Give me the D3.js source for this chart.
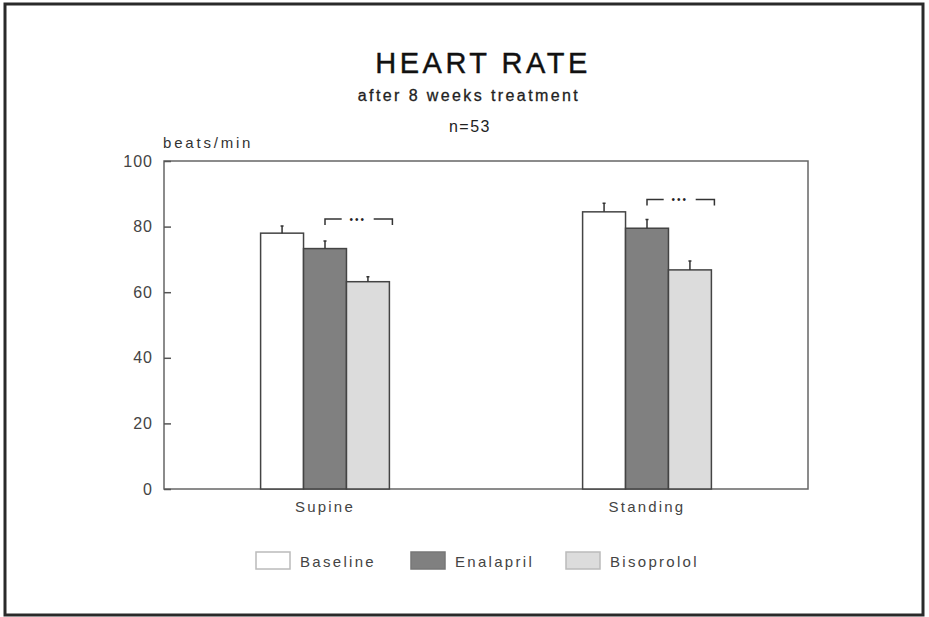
<!DOCTYPE html>
<meta charset="utf-8">
<style>
body { margin: 0; background: #fff; font-family: 'Liberation Sans', Arial, sans-serif; }
text { fill: #333; }
.axis path, .axis line { stroke: #555; stroke-width: 1.5px; fill: none; }
.axis text { font-size: 16px; letter-spacing: 1px; fill: #444; }
.bar { stroke: #444; stroke-width: 1.5px; }
.err, .bracket { stroke: #333; stroke-width: 1.5px; fill: none; }
</style>
<body>
<svg width="929" height="617"></svg>
<script src="https://d3js.org/d3.v7.min.js"></script>
<script>
var groups = ["Supine", "Standing"];
var series = ["Baseline", "Enalapril", "Bisoprolol"];
var fills = ["#ffffff", "#808080", "#dcdcdc"];
var baseline = [78, 84.5];
var enalapril = [73.3, 79.5];
var bisoprolol = [63.2, 66.8];
var baselineSem = [2.2, 2.6];
var enalaprilSem = [2.3, 2.7];
var bisoprololSem = [1.5, 2.7];
var sigLevel = [82.3, 88.3];
var sigLabel = "•••";
var yTicks = [0, 20, 40, 60, 80, 100];

var svg = d3.select("svg"),
    margin = {top: 161, right: 121, bottom: 128, left: 164},
    width = +svg.attr("width") - margin.left - margin.right,
    height = +svg.attr("height") - margin.top - margin.bottom;

var values = [baseline, enalapril, bisoprolol];
var sems = [baselineSem, enalaprilSem, bisoprololSem];
var data = [];
groups.forEach(function(g, i) {
  series.forEach(function(s, j) {
    data.push({group: g, series: s, value: values[j][i], sem: sems[j][i], fill: fills[j]});
  });
});

// outer frame
svg.append("rect")
    .attr("x", 5).attr("y", 4).attr("width", 918).attr("height", 611)
    .attr("fill", "none").attr("stroke", "#2a2a2a").attr("stroke-width", 3);

// titles
svg.append("text").attr("x", 483).attr("y", 73).attr("text-anchor", "middle")
    .style("font-size", "29px").style("letter-spacing", "3.5px").style("fill", "#111")
    .style("stroke", "#111").style("stroke-width", "0.4px")
    .text("HEART RATE");
svg.append("text").attr("x", 469).attr("y", 101).attr("text-anchor", "middle")
    .style("font-size", "16px").style("letter-spacing", "2.4px").style("fill", "#222")
    .style("stroke", "#222").style("stroke-width", "0.3px")
    .text("after 8 weeks treatment");
svg.append("text").attr("x", 470).attr("y", 132).attr("text-anchor", "middle")
    .style("font-size", "16px").style("letter-spacing", "1.5px").style("fill", "#222")
    .text("n=53");

var x0 = d3.scaleBand().domain(groups).range([0, width]);
var x1 = d3.scaleBand().domain(series).range([0, x0.bandwidth()]).paddingInner(0).paddingOuter(2.25);
var y = d3.scaleLinear().domain([0, 100]).range([height, 0]);

var g = svg.append("g").attr("transform", "translate(" + margin.left + "," + margin.top + ")");

g.append("text").attr("x", -1).attr("y", -13)
    .style("font-size", "15px").style("letter-spacing", "2.8px").style("fill", "#333")
    .text("beats/min");

// plot box
g.append("rect").attr("width", width).attr("height", height)
    .attr("fill", "none").attr("stroke", "#666").attr("stroke-width", 1.5);

g.append("g").attr("class", "axis")
    .call(d3.axisLeft(y).tickValues(yTicks).tickSize(-7).tickPadding(11))
    .call(function(a) { a.select(".domain").remove(); });

g.append("g").attr("class", "axis")
    .attr("transform", "translate(0," + height + ")")
    .call(d3.axisBottom(x0).tickSize(0).tickPadding(12))
    .call(function(a) {
      a.select(".domain").remove();
      a.selectAll("text").style("font-size", "15px").style("letter-spacing", "2.2px");
    });

// bars
g.selectAll(".bar").data(data).enter().append("rect")
    .attr("class", "bar")
    .attr("x", function(d) { return x0(d.group) + x1(d.series); })
    .attr("y", function(d) { return y(d.value); })
    .attr("width", x1.bandwidth())
    .attr("height", function(d) { return height - y(d.value); })
    .attr("fill", function(d) { return d.fill; });

// error bars (upper only)
g.selectAll(".err").data(data).enter().append("path")
    .attr("class", "err")
    .attr("d", function(d) {
      var cx = x0(d.group) + x1(d.series) + x1.bandwidth() / 2;
      return "M" + cx + "," + y(d.value) + "V" + y(d.value + d.sem) + "M" + (cx - 1.5) + "," + y(d.value + d.sem) + "H" + (cx + 1.5);
    });

// significance brackets: Enalapril vs Bisoprolol
groups.forEach(function(grp, i) {
  var xa = x0(grp) + x1("Enalapril") + x1.bandwidth() / 2,
      xb = x0(grp) + x1("Bisoprolol") + x1.bandwidth() + 3,
      yy = y(sigLevel[i]),
      xm = (xa + xb) / 2;
  g.append("path").attr("class", "bracket")
      .attr("d", "M" + xa + "," + (yy + 6) + "V" + yy + "H" + (xm - 17) +
                 "M" + (xm + 15) + "," + yy + "H" + xb + "V" + (yy + 6));
  g.append("text").attr("x", xm - 1).attr("y", yy + 4).attr("text-anchor", "middle")
      .style("font-size", "10px").style("letter-spacing", "2px").style("fill", "#222")
      .text(sigLabel);
});

// legend
var legend = svg.append("g").attr("transform", "translate(256,552)");
var item = legend.selectAll("g").data(series).enter().append("g")
    .attr("transform", function(d, i) { return "translate(" + (i * 155) + ",0)"; });
item.append("rect").attr("width", 34).attr("height", 17)
    .attr("fill", function(d, i) { return fills[i]; })
    .attr("stroke", function(d, i) { return i === 1 ? "#777" : "#bbb"; }).attr("stroke-width", 1.5);
item.append("text").attr("x", 44).attr("y", 15)
    .style("font-size", "15px").style("letter-spacing", "2.3px").style("fill", "#444")
    .text(function(d) { return d; });
</script>
